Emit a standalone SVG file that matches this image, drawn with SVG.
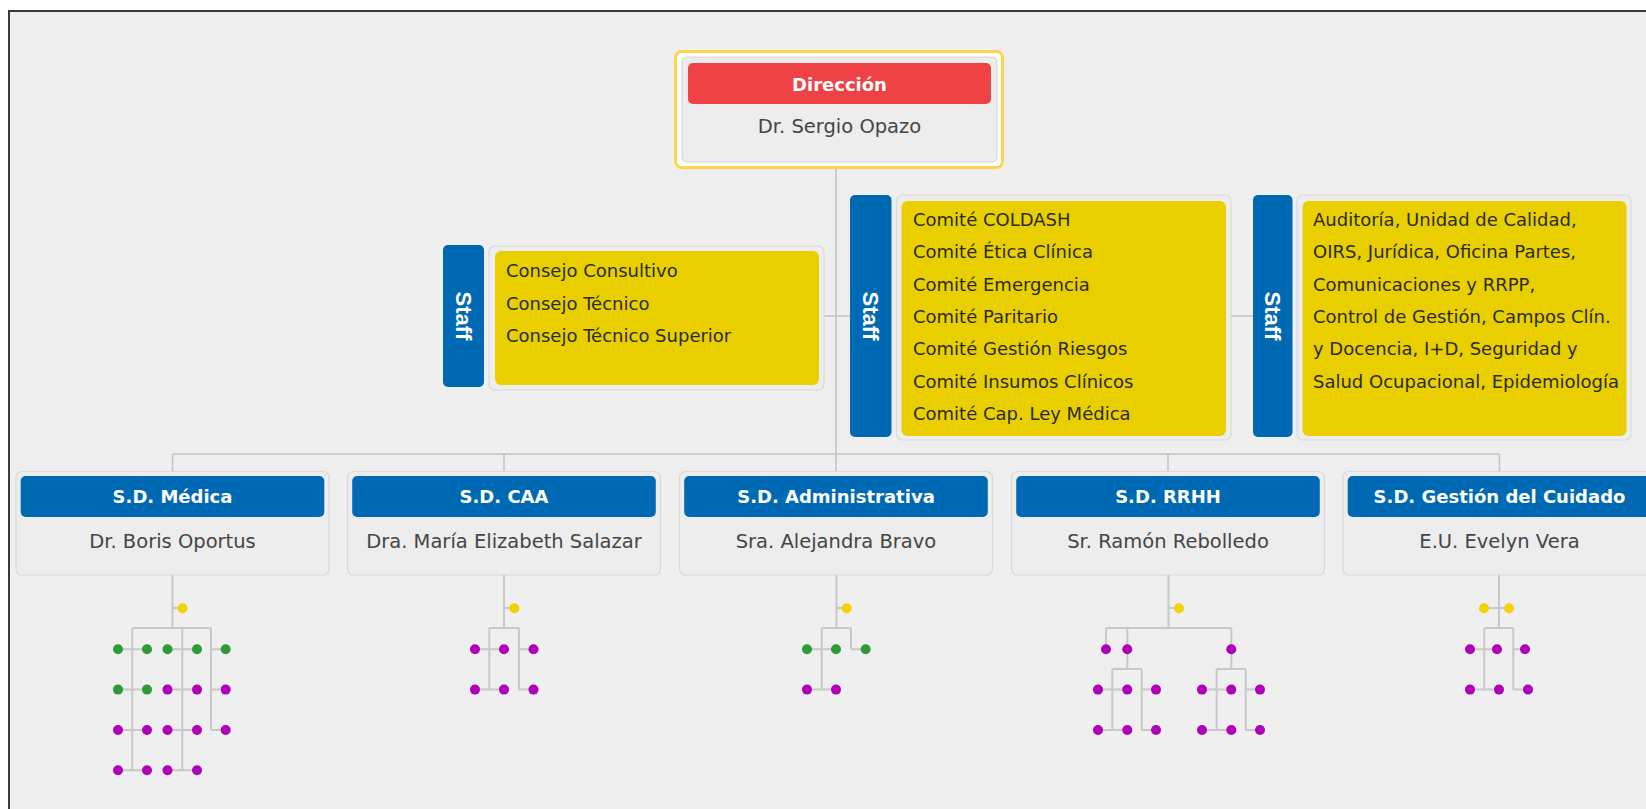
<svg xmlns="http://www.w3.org/2000/svg" width="1646" height="809" viewBox="0 0 1646 809">
  <defs>
    <style>
      .frame { fill: #efefef; stroke: #3a3a3a; stroke-width: 2; }
      .card { fill: #ededed; stroke: #dadada; stroke-width: 1.2; }
      .hdr-blue { fill: #0069b4; }
      .hdr-red { fill: #ee4246; }
      .tab { fill: #0069b4; }
      .list { fill: #e9cf00; }
      .hdr-txt { font-family: "DejaVu Sans", Verdana, sans-serif; font-weight: bold; font-size: 18px; fill: #ffffff; text-anchor: middle; }
      .name-txt { font-family: "DejaVu Sans", Verdana, sans-serif; font-size: 19.5px; fill: #454545; text-anchor: middle; }
      .list-txt { font-family: "DejaVu Sans", Verdana, sans-serif; font-size: 18px; fill: #2b2b10; }
      .tab-txt { font-family: "Liberation Sans", Arial, sans-serif; font-weight: bold; font-size: 22px; fill: #ffffff; text-anchor: middle; dominant-baseline: central; }
      .wire { fill: none; stroke: #c2c2c2; stroke-width: 1.6; }
      .twig { fill: none; stroke: #c8c8c8; stroke-width: 2; }
      .dy { fill: #f2d300; }
      .dg { fill: #2e9a38; }
      .dp { fill: #b000b8; }
    </style>
  </defs>

  <rect width="1646" height="809" fill="#ffffff"/>
  <rect class="frame" x="9" y="11" width="1660" height="820"/>

  <!-- main connectors -->
  <g id="connectors">
    <path class="wire" d="M836 169 V454 M172.5 454 H1499.5 M172.5 454 V471.5 M504 454 V471.5 M836 454 V471.5 M1168 454 V471.5 M1499.5 454 V471.5"/>
    <path class="wire" d="M824 316 H850 M1231 316 H1253"/>
  </g>

  <!-- director -->
  <g id="direccion">
    <rect x="675.5" y="51.5" width="327" height="116" rx="6" fill="#ffffff" stroke="#fdd64b" stroke-width="3"/>
    <rect class="card" x="682" y="57" width="315" height="105" rx="5"/>
    <rect class="hdr-red" x="688" y="63" width="303" height="41" rx="5"/>
    <text class="hdr-txt" x="839.5" y="91">Dirección</text>
    <text class="name-txt" x="839.5" y="133">Dr. Sergio Opazo</text>
  </g>

  <!-- staff: councils -->
  <g id="staff-consejos">
    <rect class="tab" x="443" y="245" width="41" height="142" rx="5"/>
    <text class="tab-txt" transform="translate(463.5 316) rotate(90)">Staff</text>
    <rect class="card" x="489" y="246" width="335" height="144" rx="6"/>
    <rect class="list" x="495" y="251" width="324" height="134" rx="6"/>
    <text class="list-txt" x="506" y="277">Consejo Consultivo</text>
    <text class="list-txt" x="506" y="309.5">Consejo Técnico</text>
    <text class="list-txt" x="506" y="342">Consejo Técnico Superior</text>
  </g>

  <!-- staff: committees -->
  <g id="staff-comites">
    <rect class="tab" x="850" y="195" width="41.5" height="242" rx="5"/>
    <text class="tab-txt" transform="translate(870.75 316) rotate(90)">Staff</text>
    <rect class="card" x="896.5" y="195" width="334.5" height="245" rx="6"/>
    <rect class="list" x="901.5" y="201" width="324.5" height="235" rx="6"/>
    <text class="list-txt" x="913" y="226">Comité COLDASH</text>
    <text class="list-txt" x="913" y="258.3">Comité Ética Clínica</text>
    <text class="list-txt" x="913" y="290.6">Comité Emergencia</text>
    <text class="list-txt" x="913" y="322.9">Comité Paritario</text>
    <text class="list-txt" x="913" y="355.2">Comité Gestión Riesgos</text>
    <text class="list-txt" x="913" y="387.5">Comité Insumos Clínicos</text>
    <text class="list-txt" x="913" y="419.8">Comité Cap. Ley Médica</text>
  </g>

  <!-- staff: support units -->
  <g id="staff-unidades">
    <rect class="tab" x="1253" y="195" width="39.5" height="242" rx="5"/>
    <text class="tab-txt" transform="translate(1272.75 316) rotate(90)">Staff</text>
    <rect class="card" x="1297" y="195" width="334" height="245" rx="6"/>
    <rect class="list" x="1302.5" y="201" width="324" height="235" rx="6"/>
    <text class="list-txt" x="1313" y="226">Auditoría, Unidad de Calidad,</text>
    <text class="list-txt" x="1313" y="258.3">OIRS, Jurídica, Oficina Partes,</text>
    <text class="list-txt" x="1313" y="290.6">Comunicaciones y RRPP,</text>
    <text class="list-txt" x="1313" y="322.9">Control de Gestión, Campos Clín.</text>
    <text class="list-txt" x="1313" y="355.2">y Docencia, I+D, Seguridad y</text>
    <text class="list-txt" x="1313" y="387.5">Salud Ocupacional, Epidemiología</text>
  </g>

  <!-- sub-directorates -->
  <g id="sd-medica">
    <rect class="card" x="16" y="471.5" width="313" height="103.5" rx="6"/>
    <rect class="hdr-blue" x="20.7" y="476" width="303.6" height="41" rx="5"/>
    <text class="hdr-txt" x="172.5" y="503">S.D. Médica</text>
    <text class="name-txt" x="172.5" y="548">Dr. Boris Oportus</text>
  </g>
  <g id="sd-caa">
    <rect class="card" x="347.5" y="471.5" width="313" height="103.5" rx="6"/>
    <rect class="hdr-blue" x="352.2" y="476" width="303.6" height="41" rx="5"/>
    <text class="hdr-txt" x="504" y="503">S.D. CAA</text>
    <text class="name-txt" x="504" y="548">Dra. María Elizabeth Salazar</text>
  </g>
  <g id="sd-administrativa">
    <rect class="card" x="679.5" y="471.5" width="313" height="103.5" rx="6"/>
    <rect class="hdr-blue" x="684.2" y="476" width="303.6" height="41" rx="5"/>
    <text class="hdr-txt" x="836" y="503">S.D. Administrativa</text>
    <text class="name-txt" x="836" y="548">Sra. Alejandra Bravo</text>
  </g>
  <g id="sd-rrhh">
    <rect class="card" x="1011.5" y="471.5" width="313" height="103.5" rx="6"/>
    <rect class="hdr-blue" x="1016.2" y="476" width="303.6" height="41" rx="5"/>
    <text class="hdr-txt" x="1168" y="503">S.D. RRHH</text>
    <text class="name-txt" x="1168" y="548">Sr. Ramón Rebolledo</text>
  </g>
  <g id="sd-gestion-cuidado">
    <rect class="card" x="1343" y="471.5" width="313" height="103.5" rx="6"/>
    <rect class="hdr-blue" x="1347.7" y="476" width="303.6" height="41" rx="5"/>
    <text class="hdr-txt" x="1499.5" y="503">S.D. Gestión del Cuidado</text>
    <text class="name-txt" x="1499.5" y="548">E.U. Evelyn Vera</text>
  </g>

  <!-- collapsed sub-trees -->
  <g id="tree-medica">
    <path class="twig" d="M172.5 575 V628 M172.5 608 H182.5 M132.3 628 H211 M132.3 628 V770.3 M182.3 628 V770.3 M211 628 V730 M118 649.3 H147 M118 689.6 H147 M118 730 H147 M118 770.3 H147 M167.5 649.3 H197 M167.5 689.6 H197 M167.5 730 H197 M167.5 770.3 H197 M211 649.3 H225.7 M211 689.6 H225.7 M211 730 H225.7"/>
    <circle class="dy" cx="182.5" cy="608.3" r="5"/>
    <circle class="dg" cx="118" cy="649.3" r="5"/><circle class="dg" cx="147" cy="649.3" r="5"/><circle class="dg" cx="167.5" cy="649.3" r="5"/><circle class="dg" cx="197" cy="649.3" r="5"/><circle class="dg" cx="225.7" cy="649.3" r="5"/>
    <circle class="dg" cx="118" cy="689.6" r="5"/><circle class="dg" cx="147" cy="689.6" r="5"/><circle class="dp" cx="167.5" cy="689.6" r="5"/><circle class="dp" cx="197" cy="689.6" r="5"/><circle class="dp" cx="225.7" cy="689.6" r="5"/>
    <circle class="dp" cx="118" cy="730" r="5"/><circle class="dp" cx="147" cy="730" r="5"/><circle class="dp" cx="167.5" cy="730" r="5"/><circle class="dp" cx="197" cy="730" r="5"/><circle class="dp" cx="225.7" cy="730" r="5"/>
    <circle class="dp" cx="118" cy="770.3" r="5"/><circle class="dp" cx="147" cy="770.3" r="5"/><circle class="dp" cx="167.5" cy="770.3" r="5"/><circle class="dp" cx="197" cy="770.3" r="5"/>
  </g>

  <g id="tree-caa">
    <path class="twig" d="M504 575 V628 M504 608 H514.3 M489.3 628 H519 M489.3 628 V689.6 M519 628 V689.6 M475 649.3 H504 M475 689.6 H504 M519 649.3 H533.5 M519 689.6 H533.5"/>
    <circle class="dy" cx="514.3" cy="608.3" r="5"/>
    <circle class="dp" cx="475" cy="649.3" r="5"/><circle class="dp" cx="504" cy="649.3" r="5"/><circle class="dp" cx="533.5" cy="649.3" r="5"/>
    <circle class="dp" cx="475" cy="689.6" r="5"/><circle class="dp" cx="504" cy="689.6" r="5"/><circle class="dp" cx="533.5" cy="689.6" r="5"/>
  </g>

  <g id="tree-administrativa">
    <path class="twig" d="M836.5 575 V628 M836.5 608 H846.7 M821.7 628 H851 M821.7 628 V689.6 M851 628 V649.3 M807 649.3 H836 M807 689.6 H836 M851 649.3 H865.7"/>
    <circle class="dy" cx="846.7" cy="608.3" r="5"/>
    <circle class="dg" cx="807" cy="649.3" r="5"/><circle class="dg" cx="836" cy="649.3" r="5"/><circle class="dg" cx="865.7" cy="649.3" r="5"/>
    <circle class="dp" cx="807" cy="689.6" r="5"/><circle class="dp" cx="836" cy="689.6" r="5"/>
  </g>

  <g id="tree-rrhh">
    <path class="twig" d="M1168.5 575 V628 M1168.5 608 H1179 M1106 628 H1231.3 M1106 628 V649.3 M1127.3 628 V669 M1231.3 628 V669 M1112.3 669 H1141.7 M1112.3 669 V730 M1141.7 669 V730 M1098 689.6 H1127.3 M1098 730 H1127.3 M1141.7 689.6 H1156 M1141.7 730 H1156 M1216.7 669 H1245.7 M1216.7 669 V730 M1245.7 669 V730 M1202 689.6 H1231.3 M1202 730 H1231.3 M1245.7 689.6 H1260 M1245.7 730 H1260"/>
    <circle class="dy" cx="1179" cy="608.3" r="5"/>
    <circle class="dp" cx="1106" cy="649.3" r="5"/><circle class="dp" cx="1127.3" cy="649.3" r="5"/><circle class="dp" cx="1231.3" cy="649.3" r="5"/>
    <circle class="dp" cx="1098" cy="689.6" r="5"/><circle class="dp" cx="1127.3" cy="689.6" r="5"/><circle class="dp" cx="1156" cy="689.6" r="5"/>
    <circle class="dp" cx="1098" cy="730" r="5"/><circle class="dp" cx="1127.3" cy="730" r="5"/><circle class="dp" cx="1156" cy="730" r="5"/>
    <circle class="dp" cx="1202" cy="689.6" r="5"/><circle class="dp" cx="1231.3" cy="689.6" r="5"/><circle class="dp" cx="1260" cy="689.6" r="5"/>
    <circle class="dp" cx="1202" cy="730" r="5"/><circle class="dp" cx="1231.3" cy="730" r="5"/><circle class="dp" cx="1260" cy="730" r="5"/>
  </g>

  <g id="tree-gestion-cuidado">
    <path class="twig" d="M1499 575 V628 M1484 608 H1509 M1484.3 628 H1513.3 M1484.3 628 V689.6 M1513.3 628 V689.6 M1470 649.3 H1499 M1470 689.6 H1499 M1513.3 649.3 H1528 M1513.3 689.6 H1528"/>
    <circle class="dy" cx="1484" cy="608.3" r="5"/><circle class="dy" cx="1509" cy="608.3" r="5"/>
    <circle class="dp" cx="1470" cy="649.3" r="5"/><circle class="dp" cx="1497" cy="649.3" r="5"/><circle class="dp" cx="1525" cy="649.3" r="5"/>
    <circle class="dp" cx="1470" cy="689.6" r="5"/><circle class="dp" cx="1499" cy="689.6" r="5"/><circle class="dp" cx="1528" cy="689.6" r="5"/>
  </g>
</svg>
